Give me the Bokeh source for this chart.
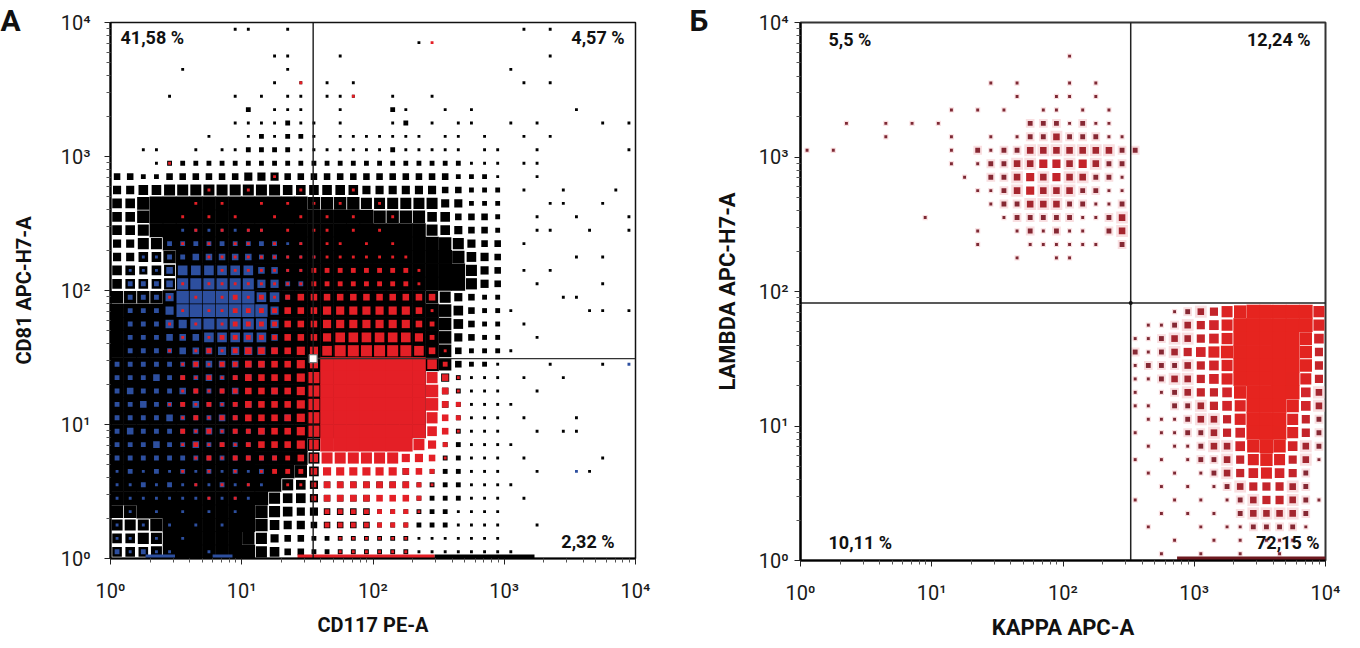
from bokeh.plotting import figure
from bokeh.models import ColumnDataSource, Label, FixedTicker, Title
from bokeh.layouts import row
from bokeh.embed import file_html
from bokeh.resources import INLINE

# Dot plots.
# One string = one tenth of a decade on the y axis (top -> bottom),
# one digit = one tenth of a decade on the x axis (10^0 -> 10^4).
# 0 = no events ... 9 = solid colour.
a_black = [
    "0000000001 1001000000 0000000000 0101000000",
    "0000000000 0000000000 0001000000 0000000000",
    "0000000000 0011000100 0000000000 0001000000",
    "0000010000 0001000000 0000000000 1000000000",
    "0000000000 0010101010 0000000000 0101000000",
    "0000100001 0101101110 0100100000 0000000000",
    "0000000000 2011100100 0210010100 0000010000",
    "0000000001 1112110100 0120101100 1010000101",
    "0000000100 1212210111 1111011010 0101000000",
    "0011001011 2222111111 1211111011 0010000001",
    "0001222222 2222222222 2222222111 0110000000",
    "3322333333 4443333333 3333332221 0010000000",
    "4455666666 6665555554 4444433222 0100100010",
    "5578999999 9999977776 6666644222 0001100100",
    "5579999999 9999988888 7777553332 0010010001",
    "5569999999 9999999999 9888654332 0011001001",
    "4466999999 9999999999 9999876433 0100000000",
    "4455799999 9999999999 9999987543 0000010100",
    "5545699999 9999999999 9999998643 0101000000",
    "5555699999 9999999999 9999998643 0010000100",
    "7777999999 9999999999 9998764322 0000110000",
    "9999999999 9999999999 9999875322 1000001101",
    "9999999999 9999999999 9999875322 0100000000",
    "9999999999 9999999999 9999874322 0010000000",
    "9999999999 9999999999 9999873222 1000000000",
    "9999999999 9999999999 9999873221 0001000100",
    "9999999999 9999999999 9999542111 0100100000",
    "9999999999 9999999999 9999432111 0010000000",
    "9999999999 9999999999 9999432111 1000000000",
    "9999999999 9999999999 9999322111 0100010000",
    "9999999999 9999999999 9999322111 0010110000",
    "9999999999 9999974444 4444322111 1000000000",
    "9999999999 9999963333 3332222111 0100000100",
    "9999999999 9998753333 3332222111 0010001000",
    "9999999999 9986543333 3332222111 1000000000",
    "9999999999 9865543333 2222222111 0100000000",
    "7789999999 8765443333 2222221111 0000000000",
    "6667999989 8754433333 2222221111 0010000000",
    "5566899989 7643322222 2221111111 0000000000",
    "5556888888 8653322222 2221111111 1000000000",
]

a_blue = [
    "0000000000 0000000000 0000000000 0000000000",
    "0000000000 0000000000 0000000000 0000000000",
    "0000000000 0000000000 0000000000 0000000000",
    "0000000000 0000000000 0000000000 0000000000",
    "0000000000 0000000000 0000000000 0000000000",
    "0000000000 0000000000 0000000000 0000000000",
    "0000000000 0000000000 0000000000 0000000000",
    "0000000000 0000000000 0000000000 0000000000",
    "0000000000 0000000000 0000000000 0000000000",
    "0000000000 0000000000 0000000000 0000000000",
    "0000000000 0000000000 0000000000 0000000000",
    "0000000000 0000000000 0000000000 0000000000",
    "0000000000 0000000000 0000000000 0000000000",
    "0000000000 0000000000 0000000000 0000000000",
    "0000000000 0000000000 0000000000 0000000000",
    "0000011111 1100000000 0000000000 0000000000",
    "0000222222 2221100000 0000000000 0000000000",
    "0011223333 3221110000 0000000000 0000000000",
    "0111355555 5331110000 0000000000 0000000000",
    "0222366666 6442210000 0000000000 0000000000",
    "0222477777 7552211000 0000000000 0000000000",
    "0222477777 7742210000 0000000000 0000000000",
    "0222446666 6642110000 0000000000 0000000000",
    "0222333555 5532210000 0000000000 0000000000",
    "0222233344 4432200000 0000000000 0000000000",
    "2222223333 3322210000 0000000000 0000000001",
    "2223222322 3222211010 1010000000 0000000000",
    "2322232223 2232210000 0101000000 0000000000",
    "2232223222 3222210100 1010000000 0000000000",
    "2222322232 2223210000 0101000000 0000000000",
    "2322222322 2322110000 0010000000 0000000000",
    "2223223222 2222110000 0000000000 0000000000",
    "2222222222 2221100000 0000000000 0000000000",
    "1212121212 1210000000 0000000000 0000010000",
    "1121211121 1100000000 0000000000 0000000000",
    "1111111111 1000000000 0000000000 0000000000",
    "0101010101 0000000000 0000000000 0000000000",
    "1010101010 0000000000 0000000000 0000000000",
    "1101010000 0000000000 0000000000 0000000000",
    "2121100100 0000000000 0000000000 0000000000",
]

a_red = [
    "0000000000 0000000000 0000000000 0000000000",
    "0000000000 0000000000 0000100000 0000000000",
    "0000000000 0000000000 0000000000 0000000000",
    "0000000000 0000000000 0000000000 0000000000",
    "0000000000 0000100000 0000000000 0000000000",
    "0000000000 0000000010 0000000000 0000000000",
    "0000000000 0000000000 0000000000 0000000000",
    "0000000000 0000000000 0000000000 0000000000",
    "0000000000 0000000000 0000000000 0000000000",
    "0000000000 0000000000 0000000000 0000000000",
    "0000100000 0000000000 0000000000 0000000000",
    "0000000000 0010000000 0000000000 0000000000",
    "0000000100 1000100010 0000000000 0000000000",
    "0000001010 0101010100 1000000000 0000000000",
    "0000010101 0010101010 0100000000 0000000000",
    "0000001010 1101011010 1000000000 0000000000",
    "0000010101 1010101101 0100000000 0000000000",
    "0000000111 1111111111 1110000000 0000000000",
    "0000000011 1111122222 2221000000 0000000000",
    "0000010111 1111122222 2221000000 0000000000",
    "0000101012 1212333333 3333300000 0000000000",
    "0000010112 2223334444 4443100000 0000000000",
    "0000101012 2223334444 4443200000 0000000000",
    "0000010122 2223334555 5554200000 0000000000",
    "0000101212 3333445666 6665310000 0000000000",
    "0000012122 3333448888 8888520000 0000000000",
    "0000021212 3333469999 9999631000 0000000000",
    "0000012122 3333469999 9999731000 0000000000",
    "0000121212 3333469999 9999732000 0000000000",
    "0000012122 3333469999 9999632000 0000000000",
    "0000021212 2333469999 9999531000 0000000000",
    "0000012121 2333458888 8886420000 0000000000",
    "0000001212 2222346666 6644310000 0000000000",
    "0000010101 0122234444 4433200000 0000000000",
    "0000001010 1001123333 3332100000 0000000000",
    "0000000101 0000023333 3332000000 0000000000",
    "0000000000 0000002222 2221000000 0000000000",
    "0000000000 0000002222 2220000000 0000000000",
    "0000000000 0000000111 1110000000 0000000000",
    "0000000000 0000000111 1110000000 0000000000",
]

b_cells = [
    "0000000000 0000000000 0000000000 0000000000",
    "0000000000 0000000000 0000000000 0000000000",
    "0000000000 0000000000 1000000000 0000000000",
    "0000000000 0000000000 0000000000 0000000000",
    "0000000000 0000101000 1010000000 0000000000",
    "0000000000 0000001001 1010000000 0000000000",
    "0000000000 0101010011 0101000000 0000000000",
    "0001001010 1000000222 1211000000 0000000000",
    "0000001000 0100101223 2221100000 0000000000",
    "1010000000 0102122333 3333220000 0000000000",
    "0000000000 0101223344 3432200000 0000000000",
    "0000000000 0010223434 3322100000 0000000000",
    "0000000000 0001123433 3221100000 0000000000",
    "0000000000 0000122333 2211200000 0000000000",
    "0000000001 0000012222 2112300000 0000000000",
    "0000000000 0001001212 1102300000 0000000000",
    "0000000000 0001000111 1110200000 0000000000",
    "0000000000 0000001001 1000000000 0000000000",
    "0000000000 0000000000 0000000000 0000000000",
    "0000000000 0000000000 0000000000 0000000000",
    "0000000000 0000000000 0000000000 0000000000",
    "0000000000 0000000000 0000000012 3467999986",
    "0000000000 0000000000 0000001123 4568999986",
    "0000000000 0000000000 0000011233 4568999975",
    "0000000000 0000000000 0000021234 5678999974",
    "0000000000 0000000000 0000012223 4568999974",
    "0000000000 0000000000 0000011233 4568999864",
    "0000000000 0000000000 0000010123 4457999853",
    "0000000000 0000000000 0000011022 3456999753",
    "0000000000 0000000000 0000001112 3346999642",
    "0000000000 0000000000 0000010112 2345898642",
    "0000000000 0000000000 0000001011 2335787532",
    "0000000000 0000000000 0000010101 2234676431",
    "0000000000 0000000000 0000001010 1234565420",
    "0000000000 0000000000 0000000101 0123444320",
    "0000000000 0000000000 0000010010 1012344321",
    "0000000000 0000000000 0000000101 0102333320",
    "0000000000 0000000000 0000001000 1011222210",
    "0000000000 0000000000 0000000010 0101011100",
    "0000000000 0000000000 0000000100 1001001000",
]

# events piled up on the x axis
a_axis_left = [1.85, 6.0, 26.6, 295]
a_axis_right = [3.1, 8.5, 295, 1700]
a_axis_kind = ["blue", "blue", "red", "black"]
b_axis_left = [740]
b_axis_right = [10000]

# quadrant gates (x, y)
a_gate = (35, 31)
b_gate = (328, 82)

a_quadrants = ["41,58 %", "4,57 %", "2,32 %"]
b_quadrants = ["5,5 %", "12,24 %", "10,11 %", "72,15 %"]

tick_values = [1, 10, 100, 1000, 10000]
tick_labels = ["10⁰", "10¹", "10²", "10³", "10⁴"]

STEP = 0.1
A_COL = {"black": "#000000", "blue": "#2d4f9f", "red": "#e41f26"}
B_COL = {1: "#7d2934", 2: "#862833", 3: "#a4262f", 4: "#c4252b", 5: "#d2252a",
         6: "#dc2424", 7: "#e22420", 8: "#e5241f", 9: "#e6241f"}


def cells(grid, grow=1.0, max_d=9):
    out = dict(left=[], right=[], bottom=[], top=[], d=[])
    for r, line in enumerate(grid):
        line = line.replace(" ", "").ljust(40, "0")[:40]
        for c, ch in enumerate(line):
            d = int(ch)
            if d == 0 or d > max_d:
                continue
            h = 0.5 * STEP * min(1.04, (d / 8) ** 0.75 * 1.04) * grow
            cx = (c + 0.5) * STEP
            cy = 4 - (r + 0.5) * STEP
            out["left"].append(10 ** (cx - h))
            out["right"].append(10 ** (cx + h))
            out["bottom"].append(10 ** (cy - h))
            out["top"].append(10 ** (cy + h))
            out["d"].append(d)
    return out


def make_fig(fw, fh, left, right, top, bottom, letter, letter_offset):
    p = figure(x_axis_type="log", y_axis_type="log", x_range=(1, 1e4), y_range=(1, 1e4),
               frame_width=fw, frame_height=fh, min_border_left=left, min_border_right=right,
               min_border_top=top, min_border_bottom=bottom,
               toolbar_location=None, output_backend="svg")
    p.title = Title(text=letter, align="left", offset=letter_offset, standoff=-30,
                    text_font="Roboto", text_font_size="30px", text_font_style="bold",
                    text_color="#111")
    p.grid.visible = False
    p.background_fill_color = "white"
    p.border_fill_color = "white"
    return p


def style_axes(p, xlab, ylab, y_standoff, ylab_standoff, lab_size):
    minor = [m * 10 ** k for k in range(4) for m in range(2, 10)]
    for ax in (p.xaxis[0], p.yaxis[0]):
        ax.ticker = FixedTicker(ticks=tick_values, minor_ticks=minor)
        ax.major_label_overrides = dict(zip(tick_values, tick_labels))
        ax.axis_line_width = 2.2
        ax.axis_line_color = "black"
        ax.major_tick_in = 0
        ax.major_tick_out = 6
        ax.minor_tick_in = 0
        ax.minor_tick_out = 4
        ax.major_tick_line_color = "#222"
        ax.minor_tick_line_color = "#555"
        ax.major_label_text_font = "Roboto"
        ax.major_label_text_font_size = "20px"
        ax.major_label_text_color = "#1a1a1a"
        ax.axis_label_text_font = "Roboto"
        ax.axis_label_text_font_size = lab_size
        ax.axis_label_text_font_style = "bold"
        ax.axis_label_text_color = "#111"
    p.xaxis.axis_label = xlab
    p.yaxis.axis_label = ylab
    p.xaxis.major_label_standoff = 14
    p.xaxis.axis_label_standoff = 7
    p.yaxis.major_label_standoff = y_standoff
    p.yaxis.axis_label_standoff = ylab_standoff


def add_text(p, x, y, text, align):
    p.add_layout(Label(x=x, y=y, x_units="screen", y_units="screen", text=text,
                       text_font="Roboto", text_font_style="bold", text_font_size="18px",
                       text_color="#111", text_align=align, text_baseline="middle"))


# ---------------- panel A ----------------
pa = make_fig(525, 536, 110, 45, 22, 78, "А", -110)
style_axes(pa, "CD117 PE-A", "CD81 APC-H7-A", 14, 22, "20px")
pa.outline_line_color = "#111"
pa.outline_line_width = 1.5

for grid, key in ((a_black, "black"), (a_blue, "blue"), (a_red, "red")):
    pa.quad(left="left", right="right", bottom="bottom", top="top",
            source=ColumnDataSource(cells(grid)), fill_color=A_COL[key], line_color=None)

pa.quad(left=a_axis_left, right=a_axis_right, bottom=1, top=10 ** 0.03,
        fill_color=[A_COL[k] for k in a_axis_kind], line_color=None)

gx, gy = a_gate
pa.segment(x0=gx, y0=1, x1=gx, y1=1e4, line_color="#1a1a1a", line_width=1.4)
pa.segment(x0=gx, y0=gy, x1=1e4, y1=gy, line_color="#333", line_width=1.3)
pa.scatter(x=[gx], y=[gy], marker="square", size=8, fill_color="white",
           line_color="#777", line_width=1.2)

add_text(pa, 10, 521, a_quadrants[0], "left")
add_text(pa, 514, 521, a_quadrants[1], "right")
add_text(pa, 504, 17, a_quadrants[2], "right")

# ---------------- panel Б ----------------
pb = make_fig(525, 538, 120, 19, 21, 78, "Б", -111)
style_axes(pb, "KAPPA APC-A", "LAMBDA APC-H7-A", 6, 16, "22px")
pb.outline_line_color = "#333"
pb.outline_line_width = 2

halo = cells(b_cells, grow=1.8, max_d=3)
pb.quad(left="left", right="right", bottom="bottom", top="top",
        source=ColumnDataSource(halo), fill_color="#f4c4c8", fill_alpha=0.55, line_color=None)
bdata = cells(b_cells)
bdata["color"] = [B_COL[d] for d in bdata["d"]]
pb.quad(left="left", right="right", bottom="bottom", top="top",
        source=ColumnDataSource(bdata), fill_color="color", line_color=None)

pb.quad(left=b_axis_left, right=b_axis_right, bottom=1, top=10 ** 0.03,
        fill_color="#6e1a20", line_color=None)

gx, gy = b_gate
pb.segment(x0=gx, y0=1, x1=gx, y1=1e4, line_color="#222", line_width=1.5)
pb.segment(x0=1, y0=gy, x1=1e4, y1=gy, line_color="#222", line_width=1.5)
pb.scatter(x=[gx], y=[gy], marker="circle", size=4, fill_color="#111", line_color=None)

add_text(pb, 28, 521, b_quadrants[0], "left")
add_text(pb, 510, 521, b_quadrants[1], "right")
add_text(pb, 28, 18, b_quadrants[2], "left")
add_text(pb, 519, 18, b_quadrants[3], "right")

layout = row(pa, pb)
open("out.html", "w").write(file_html(layout, INLINE))
